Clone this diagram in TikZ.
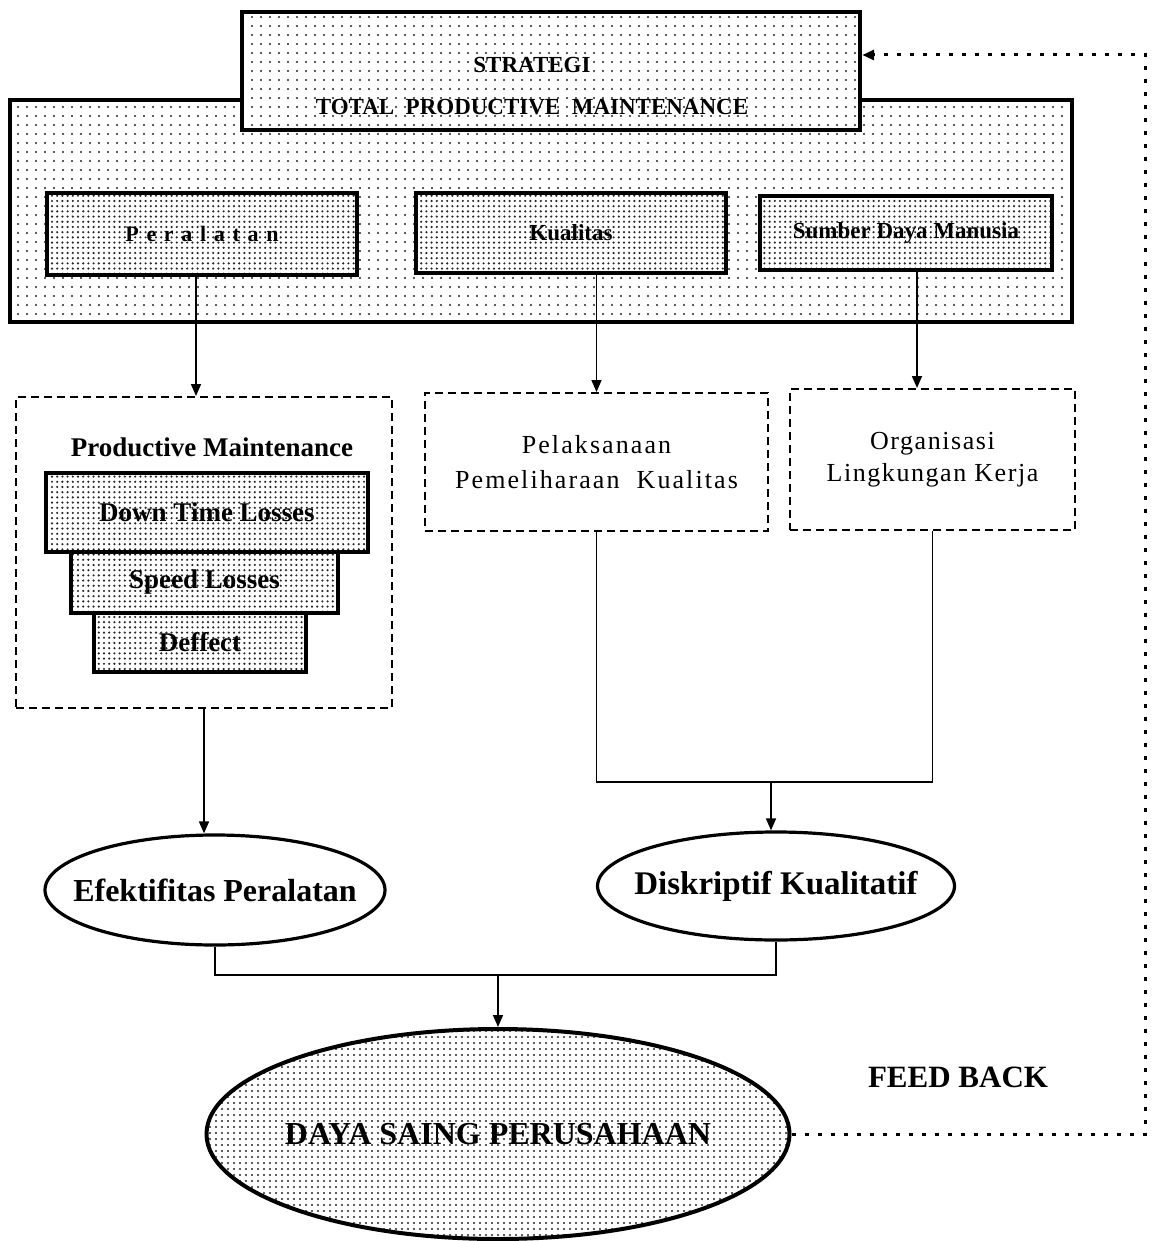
\documentclass[tikz,border=0pt]{standalone}
\usepackage{fontspec}
\setmainfont{Liberation Serif}
\usetikzlibrary{arrows.meta,calc,positioning,shapes.geometric,patterns.meta}

\begin{document}
\begin{tikzpicture}[x=0.5pt,y=-0.5pt,
  dotfill/.style={preaction={fill=white},pattern={Dots[distance=#1,radius=0.6pt]},pattern color=black!85},
  dotbox/.style={draw,line width=1.6pt,inner sep=0pt,dotfill=2.6pt},
  dashbox/.style={draw,line width=1pt,dash pattern=on 4pt off 2.5pt,inner sep=0pt},
  oval/.style={draw,ellipse,line width=1.6pt,inner sep=0pt,fill=white},
  link/.style={line width=0.8pt},
  arr/.style={link,-{Triangle[length=6pt,width=5pt]}},
  fb/.style={line width=1.5pt,dash pattern=on 2pt off 4.5pt,-{Triangle[length=6pt,width=5pt]}}]
\useasboundingbox (0,0) rectangle (1155,1241);

% Frame and strategy box
\node[draw,line width=1.6pt,inner sep=0pt,dotfill=4.5pt,minimum width=531pt,minimum height=111pt] (frame) at (541,211) {};
\node[draw,line width=2.2pt,inner sep=0pt,dotfill=4.5pt,minimum width=309pt,minimum height=59pt] (tpm) at (551,71) {};
\node[align=center,font=\bfseries\fontsize{11.5}{21}\selectfont] (tpmtext) at (532,86) {STRATEGI\\TOTAL\ \ PRODUCTIVE\ \ MAINTENANCE};

% Three pillars
\node[dotbox,minimum width=155pt,minimum height=41pt,font=\bfseries\fontsize{11}{13}\selectfont\addfontfeatures{LetterSpace=35}] (per) at (202,234) {Peralatan};
\node[dotbox,minimum width=155pt,minimum height=40pt,font=\bfseries\fontsize{11.5}{13}\selectfont] (kua) at (571,233) {Kualitas};
\node[dotbox,minimum width=146pt,minimum height=37pt,font=\bfseries\fontsize{11.5}{13}\selectfont] (sdm) at (906,233) {Sumber Daya Manusia};

% Second row
\node[dashbox,minimum width=188pt,minimum height=155.5pt] (pm) at (204,552.5) {};
\node[font=\bfseries\fontsize{13.5}{15}\selectfont] (pmtitle) at (212,447) {Productive Maintenance};
\node[dotbox,minimum width=161pt,minimum height=39.5pt,font=\bfseries\fontsize{13.5}{15}\selectfont] (dtl) at (207,512.5) {Down Time Losses};
\node[dotbox,minimum width=133.5pt,minimum height=30.5pt,font=\bfseries\fontsize{13.5}{15}\selectfont] (spd) at (204.5,582.5) {Speed Losses};
\node[dotbox,minimum width=106pt,minimum height=29.5pt,font=\bfseries\fontsize{13.5}{15}\selectfont] (def) at (200,642.5) {Deffect};

\node[dashbox,minimum width=171.5pt,minimum height=69pt,align=center,font=\fontsize{13}{17.5}\selectfont\addfontfeatures{LetterSpace=8}] (pel) at (596.5,462) {Pelaksanaan\\Pemeliharaan\ \ Kualitas};
\node[dashbox,minimum width=142.5pt,minimum height=70.5pt,align=center,font=\fontsize{13}{16}\selectfont\addfontfeatures{LetterSpace=6}] (org) at (932.5,459.5) {Organisasi\\Lingkungan Kerja};

% Results
\node[oval,minimum width=170pt,minimum height=55pt,font=\bfseries\fontsize{16}{18}\selectfont] (efe) at (215,890) {\makebox[0pt]{Efektifitas Peralatan}};
\node[oval,minimum width=178.5pt,minimum height=54pt,font=\bfseries\fontsize{16.5}{18}\selectfont] (dis) at (776,886) {\makebox[0pt]{Diskriptif Kualitatif}};
\node[oval,line width=2pt,dotfill=3pt,minimum width=291.5pt,minimum height=105pt,font=\bfseries\fontsize{16}{18}\selectfont] (big) at (498,1134) {\makebox[0pt]{DAYA SAING PERUSAHAAN}};
\node[font=\bfseries\fontsize{15.5}{18}\selectfont] (fbtext) at (958,1077) {FEED BACK};

% Connectors
\draw[arr] ($(per.south)+(-6,0)$) -- ($(per.south |- pm.north)+(-6,0)$);
\draw[arr] (kua.south -| pel.north) -- (pel.north);
\draw[arr] ($(sdm.south)+(11,0)$) -- ($(org.north)+(-15.5,0)$);
\draw[arr] (pm.south) -- (pm.south |- efe.north);

\coordinate (mjoin) at (771,782);
\draw[link] (pel.south) |- (mjoin) -| (org.south);
\draw[arr] (mjoin) -- (mjoin |- dis.north);

\coordinate (bjoin) at (498,975);
\draw[link] (efe.south) |- (bjoin) -| (dis.south);
\draw[arr] (bjoin) -- (big.north);

% Feed back loop
\coordinate (fbtop) at (1145,55);
\draw[fb] (big.east) -| (fbtop) -- (fbtop -| tpm.east);
\end{tikzpicture}
\end{document}
